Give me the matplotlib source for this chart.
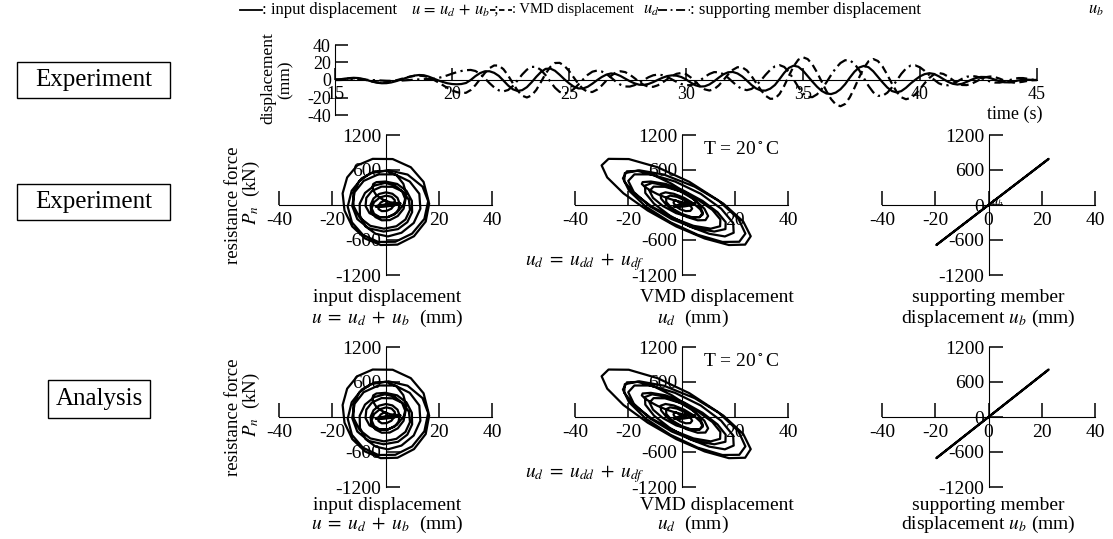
import matplotlib
matplotlib.use('Agg')
import matplotlib.pyplot as plt
import numpy as np
from matplotlib.lines import Line2D
from matplotlib.patches import Rectangle

plt.rcParams['font.family'] = ['Liberation Serif', 'DejaVu Serif']
plt.rcParams['mathtext.fontset'] = 'stix'
plt.rcParams['axes.unicode_minus'] = False

# time grid of the top record (s), one sample every 0.2 s
t = np.round(np.arange(15.0, 45.01, 0.2), 1)

# VMD displacement u_d (mm)
u_d = np.array([
    0.5, 0.7, 1.3, 1.8, 2.0, 1.7, 0.8, -0.5, -1.8, -2.7,
    -3.0, -2.7, -1.8, -0.5, 1.0, 2.5, 3.8, 4.7, 5.0, 4.5,
    2.9, 0.5, -2.5, -5.8, -9.0, -11.8, -13.8, -14.9, -14.6, -11.5,
    -5.9, 1.0, 7.9, 13.5, 16.6, 16.5, 12.3, 5.1, -3.7, -12.0,
    -17.9, -20.0, -17.7, -11.4, -2.4, 7.2, 14.9, 19.4, 19.6, 16.3,
    10.4, 3.0, -4.4, -10.3, -13.6, -13.7, -11.0, -6.3, -0.6, 4.8,
    8.6, 10.0, 9.0, 6.1, 2.1, -2.2, -5.7, -7.7, -7.8, -6.0,
    -2.9, 1.0, 4.6, 7.1, 8.0, 6.7, 3.0, -2.0, -7.0, -10.7,
    -12.0, -10.5, -6.2, -0.1, 6.3, 11.6, 14.6, 14.5, 11.0, 4.5,
    -3.5, -11.5, -18.0, -21.5, -21.3, -15.9, -6.6, 4.9, 15.7, 23.2,
    26.0, 23.9, 17.8, 8.7, -2.0, -12.7, -21.8, -27.9, -30.0, -27.4,
    -19.8, -9.0, 3.0, 13.8, 21.4, 24.0, 21.7, 15.4, 6.1, -4.1,
    -13.4, -19.7, -22.0, -20.5, -16.4, -10.3, -3.7, 2.4, 6.5, 8.0,
    6.9, 3.9, 0.0, -3.6, -5.7, -5.8, -4.3, -1.7, 1.1, 3.2,
    4.0, 3.3, 1.6, -0.6, -2.3, -3.0, -2.7, -2.0, -1.0, -0.3,
    0.0])

# supporting member displacement u_b (mm)
u_b = np.array([
    0.0, 0.0, 0.2, 0.3, 0.5, 0.5, 0.4, 0.2, -0.1, -0.4,
    -0.7, -0.9, -1.0, -0.9, -0.7, -0.4, 0.0, 0.4, 0.7, 0.9,
    1.0, 1.3, 2.2, 3.6, 5.3, 7.2, 8.9, 10.3, 11.2, 11.5,
    10.3, 6.9, 2.0, -3.5, -8.4, -11.8, -13.0, -11.4, -6.9, -0.5,
    6.3, 11.8, 15.0, 15.0, 11.5, 5.5, -1.8, -8.8, -13.6, -15.4,
    -14.1, -10.5, -5.2, 0.6, 5.9, 9.5, 10.8, 9.7, 6.8, 2.7,
    -1.8, -5.4, -7.4, -7.5, -5.9, -3.2, 0.1, 3.2, 5.4, 6.2,
    5.5, 3.5, 0.7, -2.2, -4.6, -6.0, -5.9, -4.0, -0.5, 3.5,
    6.9, 9.0, 8.9, 6.6, 2.5, -2.4, -7.1, -10.4, -11.6, -10.2,
    -6.2, -0.5, 5.9, 11.6, 15.6, 17.0, 14.9, 9.0, 0.7, -8.1,
    -15.3, -19.4, -19.6, -16.4, -10.5, -2.7, 5.7, 13.5, 19.4, 22.6,
    22.5, 18.5, 11.3, 2.3, -6.8, -14.0, -18.0, -18.1, -14.6, -8.5,
    -0.8, 7.0, 13.1, 16.5, 16.7, 14.5, 10.4, 5.4, 0.4, -3.7,
    -5.9, -6.0, -4.3, -1.6, 1.4, 3.7, 4.6, 4.0, 2.4, 0.2,
    -1.8, -2.9, -3.0, -2.0, -0.4, 1.2, 2.2, 2.2, 1.4, 0.4,
    0.0])

# input displacement u = u_d + u_b
u_in = u_d + u_b

# supporting member stiffness (kN/mm), slope of the right-hand panels
k_exp = 35.0
k_ana = 36.0
P_exp = k_exp * u_b
P_ana = k_ana * u_b

W, H = 1113, 539


def fx(x):
    return x / W


def fy(y):
    return 1 - y / H


fig = plt.figure(figsize=(W / 100, H / 100), dpi=100)

# ---------------- legend line on top ----------------
ly = fy(10)
fig.add_artist(Line2D([fx(240), fx(262)], [ly, ly], color='k', lw=1.3))
fig.text(fx(262), ly, ': input displacement', fontsize=12, va='center')
fig.text(fx(411), ly, r'$u\,=\,u_d\,+\,u_b$ ;', fontsize=12, va='center')
fig.add_artist(Line2D([fx(490), fx(512)], [ly, ly], color='k', lw=1.3, ls=(0, (3, 2))))
fig.text(fx(512), ly, ': VMD displacement', fontsize=10.5, va='center')
fig.text(fx(643), ly, r'$u_d$', fontsize=12, va='center')
fig.add_artist(Line2D([fx(658), fx(690)], [ly, ly], color='k', lw=1.3, ls=(0, (5, 2, 1, 2))))
fig.text(fx(690), ly, ': supporting member displacement', fontsize=12, va='center')
fig.text(fx(1088), ly, r'$u_b$', fontsize=12, va='center')

# ---------------- row labels ----------------
for (x0, y0, x1, y1, s) in [(17, 62, 170, 98, 'Experiment'),
                            (17, 184, 170, 220, 'Experiment'),
                            (48, 380, 150, 418, 'Analysis')]:
    fig.add_artist(Rectangle((fx(x0), fy(y1)), (x1 - x0) / W, (y1 - y0) / H,
                             transform=fig.transFigure, fill=False, ec='k', lw=1.0))
    fig.text(fx((x0 + x1) / 2), fy((y0 + y1) / 2), s, fontsize=18,
             ha='center', va='center')

# ---------------- time history ----------------
ax0 = fig.add_axes([fx(335), fy(115), 702 / W, 70 / H])
ax0.plot(t, u_in, color='k', lw=1.6)
ax0.plot(t, u_d, color='k', lw=1.6, ls=(0, (3.5, 2)))
ax0.plot(t, u_b, color='k', lw=1.6, ls=(0, (5, 2, 1, 2)))
ax0.set_xlim(15, 45)
ax0.set_ylim(-40, 40)
ax0.spines['top'].set_visible(False)
ax0.spines['right'].set_visible(False)
ax0.spines['bottom'].set_position(('data', 0))
ax0.set_xticks([15, 20, 25, 30, 35, 40, 45])
ax0.set_yticks([-40, -20, 0, 20, 40])
ax0.tick_params(direction='in', length=9, width=1.1, labelsize=13, pad=3)
ax0.tick_params(axis='x', pad=4)
ax0.patch.set_visible(False)
fig.text(fx(268), fy(78), 'displacement', rotation=90, fontsize=12.5, ha='center', va='center')
fig.text(fx(286), fy(80), '(mm)', rotation=90, fontsize=12.5, ha='center', va='center')
fig.text(fx(1015), fy(114), 'time (s)', fontsize=13, ha='center', va='center')


# ---------------- hysteresis loops ----------------
def loop_axes(left_px, bottom_px, x, y, full_ticks):
    ax = fig.add_axes([fx(left_px), fy(bottom_px), 213 / W, 140 / H])
    ax.plot(x, y, color='k', lw=1.6, zorder=3)
    ax.set_xlim(-40, 40)
    ax.set_ylim(-1200, 1200)
    ax.spines['top'].set_visible(False)
    ax.spines['right'].set_visible(False)
    ax.spines['left'].set_position(('data', 0))
    ax.spines['bottom'].set_position(('data', 0))
    if full_ticks:
        ax.set_xticks([-40, -20, 0, 20, 40])
        ax.set_yticks([-1200, -600, 0, 600, 1200])
    else:
        ax.set_xticks([-40, -20, 20, 40])
        ax.set_yticks([-1200, -600, 600, 1200])
    ax.tick_params(direction='in', length=10, width=1.1, labelsize=14, pad=3)
    ax.tick_params(axis='x', pad=5)
    ax.patch.set_visible(False)
    return ax


cols = [279, 575, 882]
# bottom of each loop row (px) and the two x-label lines below it
rows = [(275, P_exp, 298, 318), (487, P_ana, 505, 524)]

for bot, P, l1, l2 in rows:
    top = bot - 140
    loop_axes(cols[0], bot, u_in, P, False)
    loop_axes(cols[1], bot, u_d, P, False)
    loop_axes(cols[2], bot, u_b, P, True)

    # y label
    fig.text(fx(233), fy(top + 70), 'resistance force', rotation=90, fontsize=13.5,
             ha='center', va='center')
    fig.text(fx(251), fy(top + 58), r'$P_n$  (kN)', rotation=90, fontsize=13.5,
             ha='center', va='center')

    # x labels
    fig.text(fx(387), fy(l1), 'input displacement', fontsize=14, ha='center', va='center')
    fig.text(fx(387), fy(l2), r'$u\;=\;u_d\;+\;u_b$  (mm)', fontsize=14, ha='center', va='center')
    fig.text(fx(717), fy(l1), 'VMD displacement', fontsize=14, ha='center', va='center')
    fig.text(fx(693), fy(l2), r'$u_d$  (mm)', fontsize=14, ha='center', va='center')
    fig.text(fx(988), fy(l1), 'supporting member', fontsize=14, ha='center', va='center')
    fig.text(fx(988), fy(l2), r'displacement $u_b$ (mm)', fontsize=14, ha='center', va='center')

    # annotations in the VMD panel
    fig.text(fx(741), fy(top + 15), r'T = 20$^\circ$C', fontsize=14, ha='center', va='center')
    fig.text(fx(585), fy(top + 127), r'$u_d\;=\;u_{dd}\;+\;u_{df}$', fontsize=14,
             ha='center', va='center')

fig.text(fx(997), fy(203), r'$u_b$', fontsize=9, ha='center', va='center')

fig.savefig('out.png', dpi=100)
